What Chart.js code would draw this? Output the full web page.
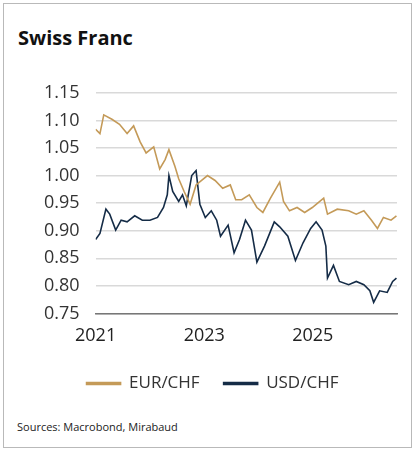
<!DOCTYPE html>
<html>
<head>
<script src="https://cdn.jsdelivr.net/npm/chart.js"></script>
<style>
  body { margin: 0; background: #fff; font-family: "Open Sans", sans-serif; }
  #frame { position: absolute; left: 3px; top: 3px; width: 407px; height: 443px; border: 1px solid #b9b9b9; }
  #title { position: absolute; left: 14px; top: 20px; font-size: 20px; font-weight: bold; color: #111; }
  #box { position: absolute; left: 24px; top: 62px; width: 381px; height: 336px; }
  #src { position: absolute; left: 13px; top: 415px; font-size: 11px; color: #222; }
</style>
</head>
<body>
<div id="frame">
  <div id="title">Swiss Franc</div>
  <div id="box"><canvas id="c"></canvas></div>
  <div id="src">Sources: Macrobond, Mirabaud</div>
</div>
<script>
const eurX = [2021.00,2021.08,2021.15,2021.30,2021.44,2021.58,2021.70,2021.82,2021.93,2022.07,2022.18,2022.28,2022.35,2022.46,2022.53,2022.63,2022.74,2022.85,2023.06,2023.20,2023.34,2023.48,2023.58,2023.69,2023.83,2023.97,2024.08,2024.22,2024.39,2024.46,2024.57,2024.71,2024.85,2024.99,2025.10,2025.20,2025.27,2025.45,2025.66,2025.80,2025.94,2026.08,2026.19,2026.30,2026.44,2026.54];
const eurY = [1.084,1.076,1.110,1.102,1.093,1.076,1.090,1.061,1.041,1.052,1.012,1.029,1.047,1.017,0.994,0.971,0.948,0.983,1.000,0.991,0.977,0.983,0.956,0.956,0.965,0.942,0.933,0.959,0.988,0.953,0.936,0.942,0.933,0.942,0.951,0.959,0.930,0.939,0.936,0.930,0.936,0.919,0.904,0.924,0.919,0.927];
const usdX = [2021.00,2021.08,2021.19,2021.26,2021.37,2021.47,2021.58,2021.72,2021.86,2022.00,2022.14,2022.25,2022.32,2022.35,2022.42,2022.53,2022.60,2022.67,2022.77,2022.85,2022.92,2023.02,2023.13,2023.23,2023.30,2023.44,2023.55,2023.65,2023.76,2023.87,2023.97,2024.11,2024.29,2024.39,2024.54,2024.68,2024.82,2024.96,2025.06,2025.17,2025.24,2025.27,2025.38,2025.49,2025.66,2025.80,2025.94,2026.05,2026.12,2026.23,2026.37,2026.47,2026.54];
const usdY = [0.884,0.895,0.939,0.930,0.901,0.919,0.916,0.927,0.919,0.919,0.924,0.942,0.965,1.000,0.971,0.953,0.965,0.945,1.000,1.009,0.948,0.924,0.936,0.919,0.890,0.910,0.860,0.884,0.919,0.901,0.843,0.872,0.916,0.907,0.890,0.846,0.878,0.904,0.916,0.901,0.872,0.814,0.837,0.808,0.802,0.808,0.802,0.791,0.770,0.791,0.788,0.808,0.814];
const yearTicks = [2021, 2023, 2025];

const pts = (xs, ys) => xs.map((x, i) => ({ x: x, y: ys[i] }));
const tickFont = { family: "Open Sans", size: 18 };

new Chart(document.getElementById('c'), {
  type: 'line',
  data: {
    datasets: [
      { label: 'EUR/CHF', data: pts(eurX, eurY), borderColor: '#c49a58', backgroundColor: '#c49a58', borderWidth: 1.6, pointRadius: 0, tension: 0 },
      { label: 'USD/CHF', data: pts(usdX, usdY), borderColor: '#152c47', backgroundColor: '#152c47', borderWidth: 1.6, pointRadius: 0, tension: 0 }
    ]
  },
  options: {
    animation: false,
    responsive: true,
    maintainAspectRatio: false,
    layout: { padding: { right: 12, top: 8 } },
    plugins: {
      legend: {
        position: 'bottom',
        labels: { boxWidth: 34, boxHeight: 2, font: { family: "Open Sans", size: 17 }, color: '#333', padding: 24 }
      },
      tooltip: { enabled: false }
    },
    scales: {
      x: {
        type: 'linear', min: 2021, max: 2026.55,
        afterBuildTicks: axis => { axis.ticks = yearTicks.map(v => ({ value: v })); },
        ticks: { font: tickFont, color: '#222', callback: v => String(v), maxRotation: 0, padding: 4 },
        grid: { display: false, drawTicks: true, tickLength: 8 },
        border: { display: true, color: '#777', width: 1.5 }
      },
      y: {
        min: 0.75, max: 1.15,
        ticks: { stepSize: 0.05, font: tickFont, color: '#333', callback: v => v.toFixed(2), padding: 16 },
        grid: { color: '#d9d9d9', lineWidth: 1.5, drawTicks: false },
        border: { display: false }
      }
    }
  }
});
</script>
</body>
</html>
